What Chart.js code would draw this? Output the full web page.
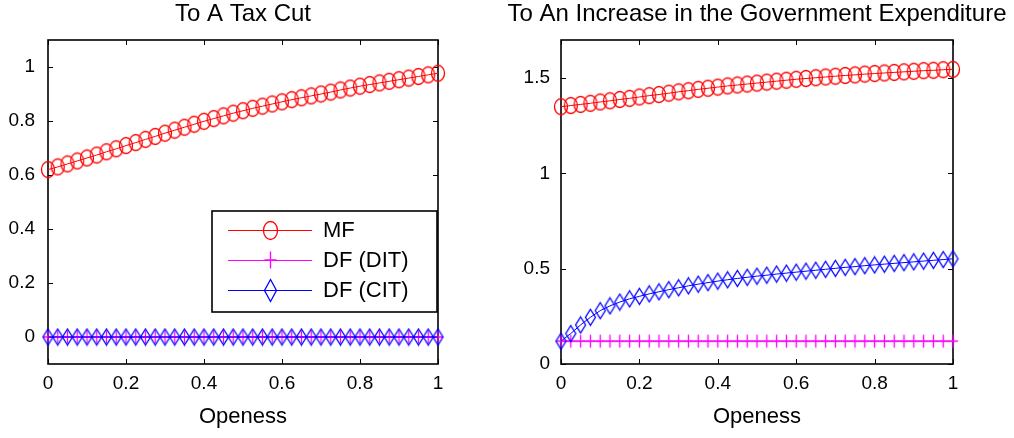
<!DOCTYPE html>
<html><head><meta charset="utf-8">
<script src="https://cdn.jsdelivr.net/npm/chart.js@4/dist/chart.umd.min.js"></script>
<style>
html,body{margin:0;padding:0;background:#fff;}
#wrap{position:relative;width:1014px;height:438px;overflow:hidden;background:#fff;}
#c1{position:absolute;left:0;top:0;}
#c2{position:absolute;left:500px;top:0;}
</style></head><body>
<div id="wrap"><canvas id="c1" width="500" height="438"></canvas><canvas id="c2" width="514" height="438"></canvas></div>
<script>
// ---- data ----
const openess = [0,0.025,0.05,0.075,0.1,0.125,0.15,0.175,0.2,0.225,0.25,0.275,0.3,0.325,0.35,0.375,0.4,0.425,0.45,0.475,0.5,0.525,0.55,0.575,0.6,0.625,0.65,0.675,0.7,0.725,0.75,0.775,0.8,0.825,0.85,0.875,0.9,0.925,0.95,0.975,1];
const taxMF  = [0.620,0.630,0.641,0.652,0.663,0.674,0.686,0.697,0.709,0.720,0.732,0.743,0.755,0.766,0.777,0.788,0.799,0.809,0.819,0.829,0.838,0.847,0.855,0.863,0.871,0.879,0.886,0.893,0.900,0.907,0.915,0.922,0.929,0.935,0.941,0.947,0.953,0.959,0.965,0.971,0.977];
const taxDIT = [0,0,0,0,0,0,0,0,0,0,0,0,0,0,0,0,0,0,0,0,0,0,0,0,0,0,0,0,0,0,0,0,0,0,0,0,0,0,0,0,0];
const taxCIT = [0,0,0,0,0,0,0,0,0,0,0,0,0,0,0,0,0,0,0,0,0,0,0,0,0,0,0,0,0,0,0,0,0,0,0,0,0,0,0,0,0];
const govMF  = [1.350,1.356,1.362,1.368,1.375,1.381,1.388,1.394,1.401,1.408,1.414,1.421,1.428,1.434,1.441,1.447,1.453,1.459,1.464,1.469,1.474,1.479,1.484,1.489,1.494,1.498,1.502,1.506,1.510,1.514,1.517,1.521,1.524,1.527,1.530,1.533,1.536,1.539,1.541,1.544,1.546];
const govDIT = [0.12,0.12,0.12,0.12,0.12,0.12,0.12,0.12,0.12,0.12,0.12,0.12,0.12,0.12,0.12,0.12,0.12,0.12,0.12,0.12,0.12,0.12,0.12,0.12,0.12,0.12,0.12,0.12,0.12,0.12,0.12,0.12,0.12,0.12,0.12,0.12,0.12,0.12,0.12,0.12,0.12];
const govCIT = [0.120,0.160,0.205,0.245,0.280,0.305,0.325,0.342,0.355,0.368,0.379,0.390,0.400,0.410,0.419,0.427,0.435,0.442,0.449,0.455,0.461,0.466,0.472,0.477,0.482,0.487,0.492,0.497,0.502,0.507,0.511,0.516,0.520,0.524,0.528,0.532,0.536,0.540,0.544,0.548,0.552];
const seriesNames = ['MF','DF (DIT)','DF (CIT)'];
const chartTitles = ['To A Tax Cut','To An Increase in the Government Expenditure'];
const xAxisLabel = 'Openess';
const xTickValues = [0,0.2,0.4,0.6,0.8,1];
const taxYTicks = [0,0.2,0.4,0.6,0.8,1];
const govYTicks = [0,0.5,1,1.5];

// ---- styling ----
const FONT = "'Liberation Sans', Arial, 'DejaVu Sans', sans-serif";
Chart.defaults.font.family = FONT;
Chart.defaults.color = '#000';
const RED = '#ff0000', MAG = '#ff00ff', BLUE = '#0000ff';

function marker(kind, color, w, h) {
  const c = document.createElement('canvas');
  c.width = w + 3; c.height = h + 3;
  const g = c.getContext('2d');
  g.strokeStyle = color; g.lineWidth = 1.3;
  const cx = c.width / 2, cy = c.height / 2;
  g.beginPath();
  if (kind === 'circle') {
    g.ellipse(cx, cy, w / 2, h / 2, 0, 0, Math.PI * 2);
  } else if (kind === 'diamond') {
    g.moveTo(cx, cy - h / 2); g.lineTo(cx + w / 2, cy); g.lineTo(cx, cy + h / 2); g.lineTo(cx - w / 2, cy); g.closePath();
  } else {
    g.moveTo(cx, cy - h / 2); g.lineTo(cx, cy + h / 2);
    g.moveTo(cx - w / 2, cy); g.lineTo(cx + w / 2, cy);
  }
  g.stroke();
  return c;
}
const mk = {
  circle: marker('circle', RED, 13, 16),
  plus: marker('plus', MAG, 10, 13),
  diamond: marker('diamond', BLUE, 10, 16)
};
const mkLegend = {
  circle: marker('circle', RED, 14, 18),
  plus: marker('plus', MAG, 12, 17),
  diamond: marker('diamond', BLUE, 12, 22)
};

const pts = ys => openess.map((x, i) => ({x: x, y: ys[i]}));
const fmt = v => String(Math.round(v * 10) / 10);

function makeDatasets(mf, dit, cit) {
  const common = {showLine: true, borderWidth: 1, clip: false, pointRadius: 6, pointHoverRadius: 6, tension: 0};
  return [
    Object.assign({label: seriesNames[0], data: pts(mf), borderColor: RED, backgroundColor: RED, pointStyle: mk.circle, legendMarker: mkLegend.circle, order: 2}, common),
    Object.assign({label: seriesNames[1], data: pts(dit), borderColor: MAG, backgroundColor: MAG, pointStyle: mk.plus, legendMarker: mkLegend.plus, order: 1}, common),
    Object.assign({label: seriesNames[2], data: pts(cit), borderColor: BLUE, backgroundColor: BLUE, pointStyle: mk.diamond, legendMarker: mkLegend.diamond, order: 0}, common)
  ];
}

const axesPlugin = {
  id: 'matlabAxes',
  beforeDatasetsDraw(chart) {
    const {ctx, chartArea: a, scales: {x, y}} = chart;
    ctx.save();
    ctx.strokeStyle = '#000';
    ctx.lineWidth = 1;
    ctx.beginPath();
    x.ticks.forEach(t => {
      const px = Math.round(x.getPixelForValue(t.value)) + 0.5;
      ctx.moveTo(px, a.bottom); ctx.lineTo(px, a.bottom - 5);
      ctx.moveTo(px, a.top); ctx.lineTo(px, a.top + 5);
    });
    y.ticks.forEach(t => {
      const py = Math.round(y.getPixelForValue(t.value)) + 0.5;
      ctx.moveTo(a.left, py); ctx.lineTo(a.left + 5, py);
      ctx.moveTo(a.right, py); ctx.lineTo(a.right - 5, py);
    });
    ctx.stroke();
    ctx.lineWidth = 1.6;
    ctx.strokeRect(a.left, a.top, a.right - a.left, a.bottom - a.top);
    ctx.restore();
  },
  afterDraw(chart, args, opts) {
    const {ctx, chartArea: a} = chart;
    ctx.save();
    ctx.font = '24px ' + FONT;
    ctx.fillStyle = '#000';
    ctx.textAlign = 'center';
    ctx.textBaseline = 'middle';
    ctx.fillText(opts.title, (a.left + a.right) / 2, 14);
    ctx.restore();
  }
};

const boxLegendPlugin = {
  id: 'boxLegend',
  afterDraw(chart, args, opts) {
    if (!opts || !opts.show) return;
    const {ctx, chartArea: a} = chart;
    const bx = a.left + opts.dx, by = a.top + opts.dy;
    ctx.save();
    ctx.fillStyle = '#fff';
    ctx.fillRect(bx, by, opts.w, opts.h);
    ctx.strokeStyle = '#000'; ctx.lineWidth = 1.6;
    ctx.strokeRect(bx, by, opts.w, opts.h);
    ctx.font = '22px ' + FONT;
    ctx.textBaseline = 'middle';
    ctx.textAlign = 'left';
    chart.data.datasets.forEach((ds, i) => {
      const ry = by + opts.row0 + i * opts.rowGap;
      ctx.strokeStyle = ds.borderColor; ctx.lineWidth = 1;
      ctx.beginPath();
      ctx.moveTo(bx + opts.lineX0, ry + 0.5); ctx.lineTo(bx + opts.lineX1, ry + 0.5);
      ctx.stroke();
      const m = ds.legendMarker;
      const mx = bx + (opts.lineX0 + opts.lineX1) / 2;
      ctx.drawImage(m, Math.round(mx - m.width / 2), Math.round(ry - m.height / 2));
      ctx.fillStyle = '#000';
      ctx.fillText(ds.label, bx + opts.textX, ry + 1);
    });
    ctx.restore();
  }
};

function makeChart(canvas, title, datasets, yMin, yMax, yTicks, yAxisWidth, yPad, rightPad, legendOpts) {
  return new Chart(canvas, {
    type: 'scatter',
    data: {datasets: datasets},
    plugins: [axesPlugin, boxLegendPlugin],
    options: {
      responsive: false,
      animation: false,
      devicePixelRatio: 1,
      layout: {padding: {left: 0, right: rightPad, top: 40, bottom: 0}},
      plugins: {
        legend: {display: false},
        tooltip: {enabled: false},
        title: {display: false},
        matlabAxes: {title: title},
        boxLegend: legendOpts
      },
      scales: {
        x: {
          type: 'linear', min: 0, max: 1,
          grid: {display: false, drawTicks: false},
          border: {display: false},
          ticks: {padding: 8, font: {size: 19}, color: '#000', maxRotation: 0, autoSkip: false, callback: v => fmt(v)},
          afterBuildTicks: s => { s.ticks = xTickValues.map(v => ({value: v})); },
          afterFit: s => { s.height = 74; },
          title: {display: true, text: xAxisLabel, color: '#000', font: {size: 22}, padding: {top: 0, bottom: 8}}
        },
        y: {
          type: 'linear', min: yMin, max: yMax,
          grid: {display: false, drawTicks: false},
          border: {display: false},
          ticks: {padding: yPad, font: {size: 19}, color: '#000', autoSkip: false, callback: v => fmt(v)},
          afterBuildTicks: s => { s.ticks = yTicks.map(v => ({value: v})); },
          afterFit: s => { s.width = yAxisWidth; }
        }
      }
    }
  });
}

makeChart(document.getElementById('c1'), chartTitles[0], makeDatasets(taxMF, taxDIT, taxCIT),
  -0.1, 1.1, taxYTicks, 48, 13, 62,
  {show: true, dx: 164, dy: 171, w: 225, h: 101, row0: 19, rowGap: 30, lineX0: 16, lineX1: 100, textX: 111});
makeChart(document.getElementById('c2'), chartTitles[1], makeDatasets(govMF, govDIT, govCIT),
  0, 1.7, govYTicks, 61, 11, 61, {show: false});
</script>
</body></html>
